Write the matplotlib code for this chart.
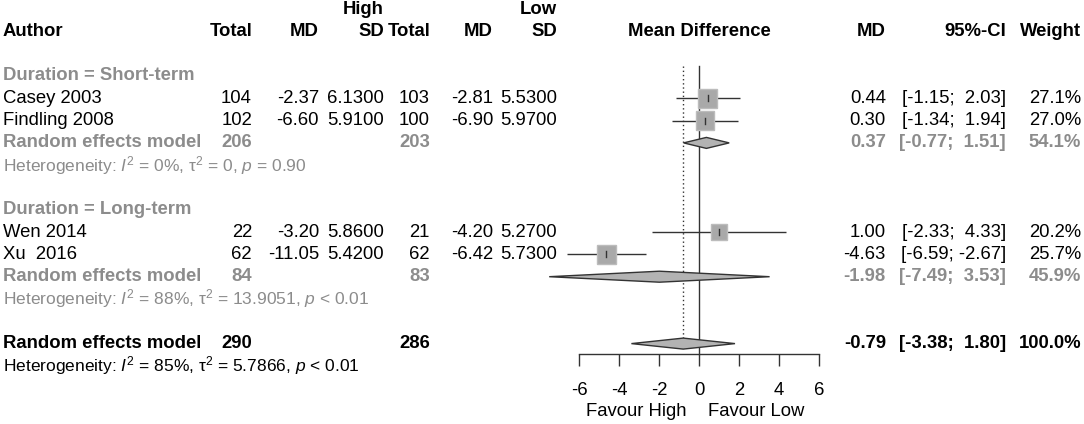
import matplotlib
matplotlib.use("Agg")
import matplotlib.pyplot as plt
from matplotlib.patches import Rectangle, Polygon

plt.rcParams['font.family'] = ['Liberation Sans', 'DejaVu Sans']
plt.rcParams['mathtext.fontset'] = 'custom'
plt.rcParams['mathtext.rm'] = 'Liberation Sans'
plt.rcParams['mathtext.it'] = 'Liberation Sans:italic'
plt.rcParams['mathtext.bf'] = 'Liberation Sans:bold'

# ---------------- data ----------------
authors = ["Casey 2003", "Findling 2008", "Wen 2014", "Xu  2016"]
study_group = [0, 0, 1, 1]
n_high = [104, 102, 22, 62]
md_high = [-2.37, -6.60, -3.20, -11.05]
sd_high = [6.13, 5.91, 5.86, 5.42]
n_low = [103, 100, 21, 62]
md_low = [-2.81, -6.90, -4.20, -6.42]
sd_low = [5.53, 5.97, 5.27, 5.73]
md = [0.44, 0.30, 1.00, -4.63]
ci_lo = [-1.15, -1.34, -2.33, -6.59]
ci_hi = [2.03, 1.94, 4.33, -2.67]
weight = [27.1, 27.0, 20.2, 25.7]

groups = ["Duration = Short-term", "Duration = Long-term"]
grp_n_high = [206, 84]
grp_n_low = [203, 83]
grp_md = [0.37, -1.98]
grp_lo = [-0.77, -7.49]
grp_hi = [1.51, 3.53]
grp_w = [54.1, 45.9]
grp_i2 = ["0%", "88%"]
grp_tau2 = ["0", "13.9051"]
grp_p = ["= 0.90", "< 0.01"]

tot_n_high = 290
tot_n_low = 286
tot_md = -0.79
tot_lo = -3.38
tot_hi = 1.80
tot_w = 100.0
tot_i2 = "85%"
tot_tau2 = "5.7866"
tot_p = "< 0.01"

xticks = [-6, -4, -2, 0, 2, 4, 6]
label_left = "Favour High"
label_right = "Favour Low"

# ---------------- layout ----------------
W, H = 1084, 424
FS = 13.3
HFS = 12.5
GRAY = "#8c8c8c"
DARK = "#333333"
Y0, STEP = 76.0, 22.3

def row_y(k):
    return Y0 + STEP * k

col_x = dict(n_h=252, md_h=319, sd_h=384, n_l=430, md_l=493, sd_l=557,
             md=886, ci=1006, w=1081)

fig = plt.figure(figsize=(W / 100, H / 100), dpi=100)
tax = fig.add_axes([0, 0, 1, 1])
tax.set_xlim(0, W)
tax.set_ylim(H, 0)
tax.axis("off")

# forest axes: 0 at pixel 699, 20 px per unit
X0PIX, PPU = 699, 20
half = 9
fax = fig.add_axes([(X0PIX - half * PPU) / W, 0, 2 * half * PPU / W, 1])
fax.set_xlim(-half, half)
fax.set_ylim(H, 0)
fax.patch.set_alpha(0)
for s in ["top", "left", "right"]:
    fax.spines[s].set_visible(False)
fax.set_yticks([])
AXIS_Y = 354
fax.spines["bottom"].set_position(("data", AXIS_Y))
fax.spines["bottom"].set_bounds(xticks[0], xticks[-1])
fax.spines["bottom"].set_color(DARK)
fax.spines["bottom"].set_linewidth(1.0)
fax.set_xticks(xticks)
fax.set_xticklabels([str(t) for t in xticks])
fax.tick_params(axis="x", direction="out", length=8.4, width=1.0, color=DARK,
                labelsize=FS, pad=12, labelcolor="black")

def txt(x, y, s, ha="right", color="black", bold=False, size=FS):
    tax.text(x, y, s, ha=ha, va="center", color=color, fontsize=size,
             fontweight="bold" if bold else "normal")

# headers
txt(3, 32, "Author", ha="left", bold=True)
txt(col_x["n_h"], 32, "Total", bold=True)
txt(col_x["md_h"], 32, "MD", bold=True)
txt(col_x["sd_h"], 32, "SD", bold=True)
txt(col_x["sd_h"], 10, "High", bold=True)
txt(col_x["n_l"], 32, "Total", bold=True)
txt(col_x["md_l"], 32, "MD", bold=True)
txt(col_x["sd_l"], 32, "SD", bold=True)
txt(col_x["sd_l"], 10, "Low", bold=True)
txt(X0PIX, 32, "Mean Difference", ha="center", bold=True)
txt(col_x["md"], 32, "MD", bold=True)
txt(col_x["ci"], 32, "95%-CI", bold=True)
txt(col_x["w"], 32, "Weight", bold=True)

def fmt_ci(lo, hi):
    a = f"{lo:.2f}" if lo < 0 else f" {lo:.2f}"
    b = f"{hi:.2f}" if hi < 0 else f" {hi:.2f}"
    return f"[{a}; {b}]"

def het_str(i2, tau2, p):
    return (r"Heterogeneity: $\mathit{I}^2$ = " + i2
            + r", τ$^2$ = " + tau2 + r", $\mathit{p}$ " + p)

SQK = 3.61  # square side (px) per sqrt(weight)
DH = 5.5    # diamond half height (px)

def diamond(y, lo, est, hi, color):
    fax.add_patch(Polygon([(lo, y), (est, y - DH), (hi, y), (est, y + DH)],
                          closed=True, facecolor=color, edgecolor=DARK,
                          linewidth=1.0, zorder=4))

k = 0
for g in range(len(groups)):
    txt(3, row_y(k), groups[g], ha="left", color=GRAY, bold=True)
    k += 1
    for i in range(len(authors)):
        if study_group[i] != g:
            continue
        y = row_y(k)
        txt(3, y, authors[i], ha="left")
        txt(col_x["n_h"], y, f"{n_high[i]}")
        txt(col_x["md_h"], y, f"{md_high[i]:.2f}")
        txt(col_x["sd_h"], y, f"{sd_high[i]:.4f}")
        txt(col_x["n_l"], y, f"{n_low[i]}")
        txt(col_x["md_l"], y, f"{md_low[i]:.2f}")
        txt(col_x["sd_l"], y, f"{sd_low[i]:.4f}")
        txt(col_x["md"], y, f"{md[i]:.2f}")
        txt(col_x["ci"], y, fmt_ci(ci_lo[i], ci_hi[i]))
        txt(col_x["w"], y, f"{weight[i]:.1f}%")
        side = SQK * weight[i] ** 0.5
        fax.plot([ci_lo[i], ci_hi[i]], [y, y], color=DARK, lw=1.0, zorder=2,
                 solid_capstyle="butt")
        fax.add_patch(Rectangle((md[i] - side / 2 / PPU, y - side / 2),
                                side / PPU, side, facecolor="#a9a9a9",
                                edgecolor="#bcbcbc", linewidth=1.0, zorder=3))
        fax.plot([md[i], md[i]], [y - 3, y + 3], color=DARK, lw=1.0, zorder=5)
        k += 1
    y = row_y(k)
    txt(3, y, "Random effects model", ha="left", color=GRAY, bold=True)
    txt(col_x["n_h"], y, f"{grp_n_high[g]}", color=GRAY, bold=True)
    txt(col_x["n_l"], y, f"{grp_n_low[g]}", color=GRAY, bold=True)
    txt(col_x["md"], y, f"{grp_md[g]:.2f}", color=GRAY, bold=True)
    txt(col_x["ci"], y, fmt_ci(grp_lo[g], grp_hi[g]), color=GRAY, bold=True)
    txt(col_x["w"], y, f"{grp_w[g]:.1f}%", color=GRAY, bold=True)
    diamond(y, grp_lo[g], grp_md[g], grp_hi[g], "#b3b3b3")
    k += 1
    txt(3, row_y(k), het_str(grp_i2[g], grp_tau2[g], grp_p[g]), ha="left",
        color=GRAY, size=HFS)
    k += 2

y = row_y(k)
txt(3, y, "Random effects model", ha="left", bold=True)
txt(col_x["n_h"], y, f"{tot_n_high}", bold=True)
txt(col_x["n_l"], y, f"{tot_n_low}", bold=True)
txt(col_x["md"], y, f"{tot_md:.2f}", bold=True)
txt(col_x["ci"], y, fmt_ci(tot_lo, tot_hi), bold=True)
txt(col_x["w"], y, f"{tot_w:.1f}%", bold=True)
diamond(y, tot_lo, tot_md, tot_hi, "#b3b3b3")
txt(3, row_y(k + 1), het_str(tot_i2, tot_tau2, tot_p), ha="left", size=HFS)

# reference lines
top = row_y(0) - 10
fax.plot([0, 0], [top, AXIS_Y], color=DARK, lw=1.0, zorder=1)
fax.plot([tot_md, tot_md], [top, y - DH], color=DARK, lw=1.0,
         linestyle=(0, (1, 2)), zorder=1)

# favour labels
fax.text(-0.6, 412, label_left, ha="right", va="center", fontsize=FS)
fax.text(0.45, 412, label_right, ha="left", va="center", fontsize=FS)

fig.savefig("out.png", dpi=100)
